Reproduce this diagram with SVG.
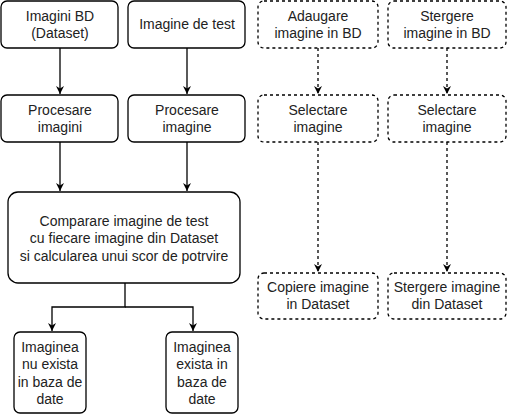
<svg xmlns="http://www.w3.org/2000/svg" width="507" height="415" viewBox="0 0 507 415">
<defs>
<marker id="arr" markerWidth="10" markerHeight="10" refX="8" refY="5" orient="auto" markerUnits="userSpaceOnUse">
<path d="M0,1 L8,5 L0,9 L2.5,5 Z" fill="#000"/>
</marker>
<style>
.box{fill:#fff;stroke:#000;stroke-width:1.3}
.dash{stroke-dasharray:3 3}
.t{font-family:"Liberation Sans",Arial,sans-serif;font-size:14px;fill:#222;text-anchor:middle}
.c{fill:none;stroke:#000;stroke-width:1.3}
</style>
</defs>
<rect width="507" height="415" fill="#fff"/>
<g id="connectors">
<path class="c" d="M60,48 V94" marker-end="url(#arr)"/>
<path class="c" d="M187,48 V94" marker-end="url(#arr)"/>
<path class="c" d="M60,142 V191" marker-end="url(#arr)"/>
<path class="c" d="M187,142 V191" marker-end="url(#arr)"/>
<path class="c" d="M125,283 V307 H52 V331" marker-end="url(#arr)"/>
<path class="c" d="M125,307 H193 V331" marker-end="url(#arr)"/>
<path class="c dash" d="M318,48 V94" marker-end="url(#arr)"/>
<path class="c dash" d="M447,48 V94" marker-end="url(#arr)"/>
<path class="c dash" d="M318,142 V272" marker-end="url(#arr)"/>
<path class="c dash" d="M447,142 V272" marker-end="url(#arr)"/>
</g>
<g id="n1"><rect class="box" x="1" y="1" width="117" height="47" rx="6"/><text class="t" x="60" y="21">Imagini BD</text><text class="t" x="60" y="38">(Dataset)</text></g>
<g id="n2"><rect class="box" x="128" y="1" width="117" height="47" rx="6"/><text class="t" x="187" y="29">Imagine de test</text></g>
<g id="n3"><rect class="box" x="1" y="95" width="117" height="47" rx="6"/><text class="t" x="60" y="115">Procesare</text><text class="t" x="60" y="132">imagini</text></g>
<g id="n4"><rect class="box" x="128" y="95" width="117" height="47" rx="6"/><text class="t" x="187" y="115">Procesare</text><text class="t" x="187" y="132">imagine</text></g>
<g id="n5"><rect class="box" x="8" y="192" width="232" height="91" rx="10"/><text class="t" x="124" y="226">Comparare imagine de test</text><text class="t" x="124" y="243">cu fiecare imagine din Dataset</text><text class="t" x="124" y="261">si calcularea unui scor de potrvire</text></g>
<g id="n6"><rect class="box" x="14" y="332" width="72" height="81" rx="6"/><text class="t" x="50" y="352">Imaginea</text><text class="t" x="50" y="369">nu exista</text><text class="t" x="50" y="387">in baza de</text><text class="t" x="50" y="404">date</text></g>
<g id="n7"><rect class="box" x="166" y="332" width="72" height="81" rx="6"/><text class="t" x="202" y="352">Imaginea</text><text class="t" x="202" y="369">exista in</text><text class="t" x="202" y="387">baza de</text><text class="t" x="202" y="404">date</text></g>
<g id="n8"><rect class="box dash" x="258" y="1" width="120" height="47" rx="6"/><text class="t" x="318" y="21">Adaugare</text><text class="t" x="318" y="38">imagine in BD</text></g>
<g id="n9"><rect class="box dash" x="388" y="1" width="118" height="47" rx="6"/><text class="t" x="447" y="21">Stergere</text><text class="t" x="447" y="38">imagine in BD</text></g>
<g id="n10"><rect class="box dash" x="258" y="95" width="120" height="47" rx="6"/><text class="t" x="318" y="115">Selectare</text><text class="t" x="318" y="132">imagine</text></g>
<g id="n11"><rect class="box dash" x="388" y="95" width="118" height="47" rx="6"/><text class="t" x="447" y="115">Selectare</text><text class="t" x="447" y="132">imagine</text></g>
<g id="n12"><rect class="box dash" x="258" y="273" width="120" height="46" rx="6"/><text class="t" x="318" y="292">Copiere imagine</text><text class="t" x="318" y="309">in Dataset</text></g>
<g id="n13"><rect class="box dash" x="388" y="273" width="118" height="46" rx="6"/><text class="t" x="447" y="292">Stergere imagine</text><text class="t" x="447" y="309">din Dataset</text></g>
</svg>
